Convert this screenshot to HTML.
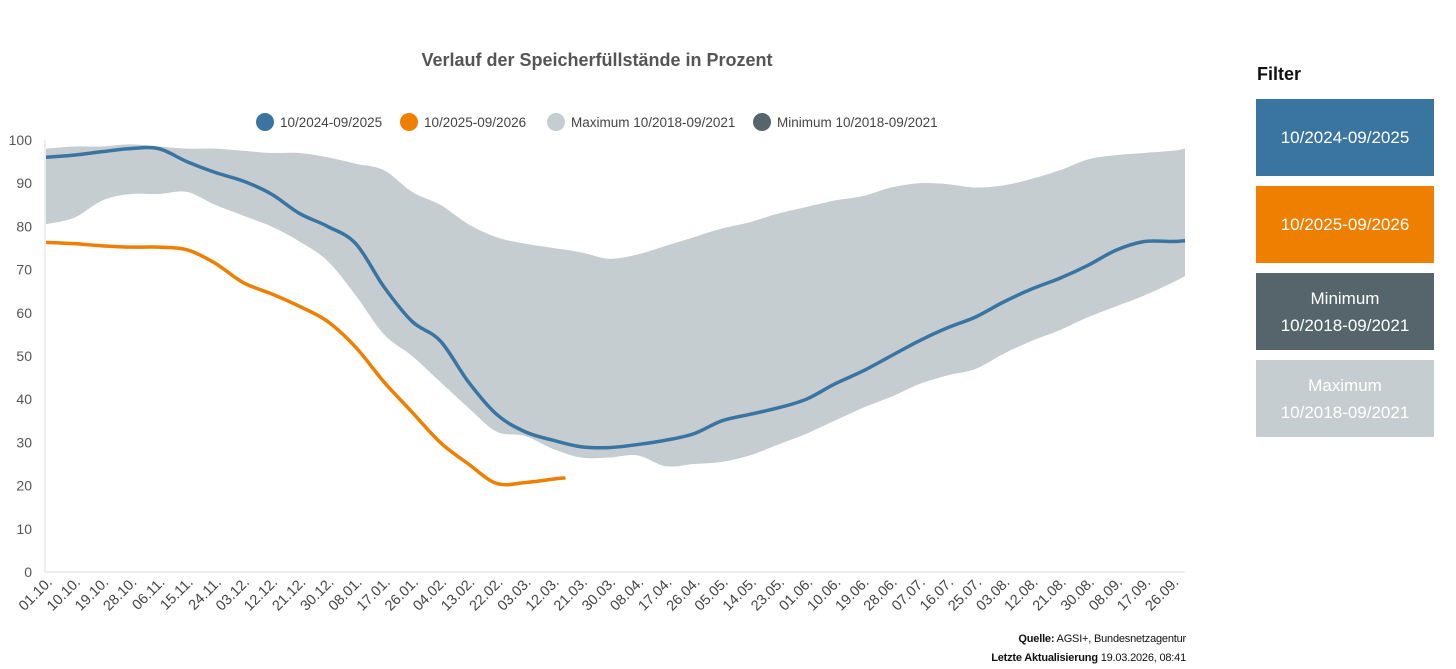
<!DOCTYPE html>
<html><head><meta charset="utf-8"><style>
body{margin:0;background:#fff;font-family:"Liberation Sans",sans-serif;}
.wrap{position:relative;width:1456px;height:669px;overflow:hidden;}
.fbox{position:absolute;left:1256px;width:178px;height:77px;color:#fff;font-size:17px;display:flex;align-items:center;justify-content:center;text-align:center;line-height:27px;}
</style></head><body>
<div class="wrap">
<svg id="chart" width="1200" height="669" style="position:absolute;left:0;top:0"></svg>
<div style="position:absolute;left:1257px;top:64px;font-size:18px;font-weight:bold;color:#111">Filter</div>
<div class="fbox" style="top:99px;background:#3a75a2">10/2024-09/2025</div>
<div class="fbox" style="top:186px;background:#ee7f00">10/2025-09/2026</div>
<div class="fbox" style="top:273px;background:#56656c">Minimum<br>10/2018-09/2021</div>
<div class="fbox" style="top:360px;background:#c5cdd0">Maximum<br>10/2018-09/2021</div>
<div style="position:absolute;right:270px;top:630px;font-size:11px;color:#111;text-align:right;line-height:19px;letter-spacing:-0.2px"><b>Quelle:</b> AGSI+, Bundesnetzagentur<br><b>Letzte Aktualisierung</b> 19.03.2026, 08:41</div>
</div>
<script>
const tickLabels=["01.10.","10.10.","19.10.","28.10.","06.11.","15.11.","24.11.","03.12.","12.12.","21.12.","30.12.","08.01.","17.01.","26.01.","04.02.","13.02.","22.02.","03.03.","12.03.","21.03.","30.03.","08.04.","17.04.","26.04.","05.05.","14.05.","23.05.","01.06.","10.06.","19.06.","28.06.","07.07.","16.07.","25.07.","03.08.","12.08.","21.08.","30.08.","08.09.","17.09.","26.09."];
const yTicks=[0,10,20,30,40,50,60,70,80,90,100];
const days=[0,9,18,27,36,45,54,63,72,81,90,99,108,117,126,135,144,153,162,171,180,189,198,207,216,225,234,243,252,261,270,279,288,297,306,315,324,333,342,351,360,364];
const series2425=[96,96.5,97.3,98,98,95,92.5,90.5,87.5,83,80,76,66,58,53.5,44,36.5,32.5,30.5,29,28.8,29.5,30.5,32,35,36.5,38,40,43.5,46.5,50,53.5,56.5,59,62.5,65.5,68,71,74.5,76.5,76.5,76.7];
const days2526=[0,9,18,27,36,45,54,63,72,81,90,99,108,117,126,135,144,153,162,166];
const series2526=[76.3,76,75.5,75.2,75.2,74.6,71.5,67,64.4,61.5,58,52,44,37,30,25,20.5,20.7,21.5,21.8];
const maxBand=[98,98.5,98.5,99,98.5,98,98,97.5,97,97,96,94.5,93,88,85,80.5,77.5,76,75,74,72.5,73.5,75.5,77.5,79.5,81,83,84.5,86,87,89,90,89.8,89,89.5,91,93,95.5,96.5,97,97.5,98];
const minBand=[80.5,82,86,87.5,87.5,88,85,82.5,80,76.5,72,64,55,50,44,38,32.5,31.5,28.5,26.5,26.5,27,24.5,25,25.5,27,29.5,32,35,38,40.5,43.5,45.5,47,50.5,53.5,56,59,61.5,64,67,68.5];
const legendItems=[["10/2024-09/2025","#3a75a2"],["10/2025-09/2026","#ee7f00"],["Maximum 10/2018-09/2021","#c5cdd0"],["Minimum 10/2018-09/2021","#56656c"]];

const NS="http://www.w3.org/2000/svg";
const svg=document.getElementById('chart');
const X0=46,X1=1185,Y0=572,Y1=140;
const x=d=>X0+(X1-X0)*d/364;
const y=v=>Y0-(Y0-Y1)*v/100;
function mk(t,a,p){const e=document.createElementNS(NS,t);for(const k in a)e.setAttribute(k,a[k]);(p||svg).appendChild(e);return e;}
function smooth(pts,start){
  let d=start?('M'+pts[0][0]+','+pts[0][1]):('L'+pts[0][0]+','+pts[0][1]);
  for(let i=0;i<pts.length-1;i++){
    const p0=pts[Math.max(i-1,0)],p1=pts[i],p2=pts[i+1],p3=pts[Math.min(i+2,pts.length-1)];
    const c1=[p1[0]+(p2[0]-p0[0])/6,p1[1]+(p2[1]-p0[1])/6];
    const c2=[p2[0]-(p3[0]-p1[0])/6,p2[1]-(p3[1]-p1[1])/6];
    d+='C'+c1[0]+','+c1[1]+' '+c2[0]+','+c2[1]+' '+p2[0]+','+p2[1];
  }
  return d;
}

let t=mk('text',{x:597,y:66,'text-anchor':'middle','font-size':'18','font-weight':'bold',fill:'#555'});


t.textContent='Verlauf der Speicherfüllstände in Prozent';

const lx=[265,409,556,762];
legendItems.forEach((it,i)=>{
  const g=mk('g',{});
  
  
  mk('circle',{cx:lx[i],cy:122,r:9,fill:it[1]},g);
  const tx=mk('text',{x:lx[i]+15,y:127,'font-size':'13.5',fill:'#444'},g);
  tx.textContent=it[0];
});

yTicks.forEach(v=>{
  const e=mk('text',{x:32,y:y(v)+5,'text-anchor':'end','font-size':'14',fill:'#555'});
  
  
  e.textContent=v;
});
mk('line',{x1:45,y1:140,x2:45,y2:Y0,stroke:'#ddd'});
mk('line',{x1:45,y1:Y0,x2:X1,y2:Y0,stroke:'#ddd'});

tickLabels.forEach((l,i)=>{
  const px=x(i*9)+7, py=Y0+11;
  const e=mk('text',{x:px,y:py,'text-anchor':'end','font-size':'14.5',fill:'#444',transform:`rotate(-45 ${px} ${py})`});
  
  
  e.textContent=l;
});

const up=days.map((dd,i)=>[x(dd),y(maxBand[i])]);
const lo=days.map((dd,i)=>[x(dd),y(minBand[i])]).reverse();
const band=mk('path',{d:smooth(up,true)+smooth(lo,false)+'Z',fill:'#c5cdd0'});



const l1=mk('path',{d:smooth(days.map((dd,i)=>[x(dd),y(series2425[i])]),true),fill:'none',stroke:'#3a75a2','stroke-width':3.5,'stroke-linejoin':'round'});


const l2=mk('path',{d:smooth(days2526.map((dd,i)=>[x(dd),y(series2526[i])]),true),fill:'none',stroke:'#ee7f00','stroke-width':3.5,'stroke-linejoin':'round'});


</script>
</body></html>
